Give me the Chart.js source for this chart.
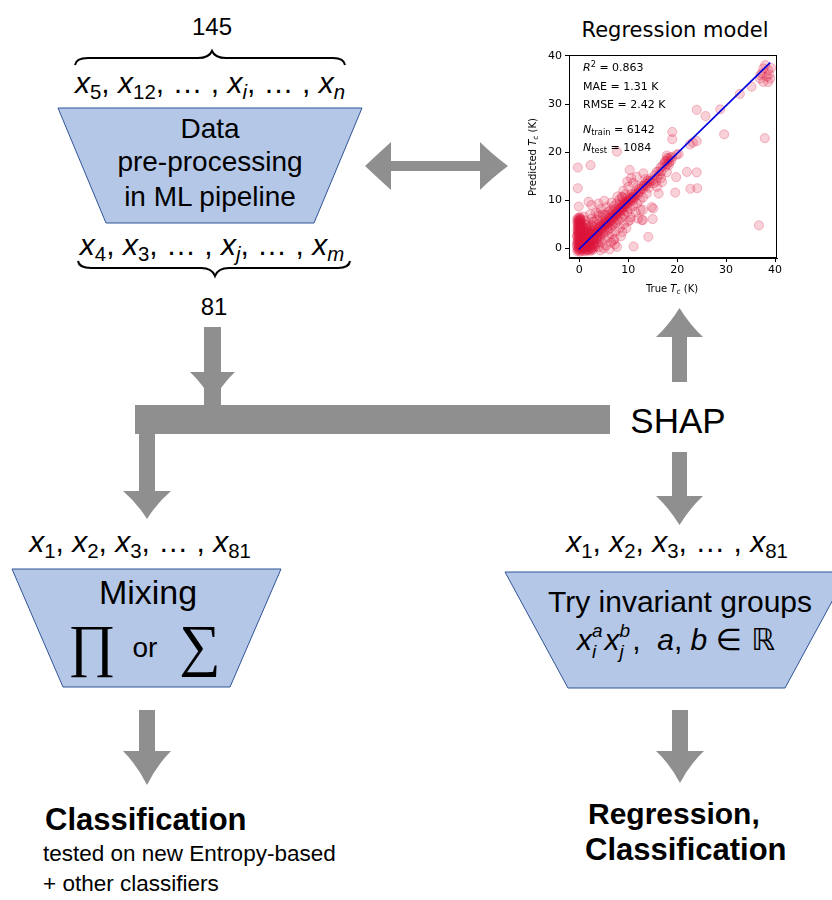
<!DOCTYPE html>
<html>
<head>
<meta charset="utf-8">
<script src="https://cdn.jsdelivr.net/npm/chart.js@4.4.1/dist/chart.umd.min.js"></script>
<style>
  body { margin: 0; background: #fff; }
  #page { position: relative; width: 832px; height: 900px; overflow: hidden; background: #fff; }
  .t { position: absolute; line-height: 1; white-space: nowrap; font-family: "Liberation Sans", Arial, sans-serif; color: #000; }
  .c { transform: translateX(-50%); }
  .m i { font-style: italic; }
  .m sub, .m sup { font-size: 0.68em; line-height: 0; position: relative; vertical-align: baseline; }
  .m sub { top: 0.28em; font-style: normal; }
  .m i sub { font-style: italic; }
  .m sup { top: -0.5em; }
  .st { display: inline-block; position: relative; width: 0.42em; height: 0; }
  .st span { position: absolute; left: 0; font-size: 19px; font-style: italic; line-height: 1; }
  .st .su { top: -29px; }
  .st .sb { top: -8px; }
  .p { font-family: "DejaVu Sans", sans-serif; font-size: 11px; }
  .p sub { font-size: 0.75em; line-height: 0; position: relative; vertical-align: baseline; top: 0.3em; }
  .p sup { font-size: 0.75em; line-height: 0; position: relative; vertical-align: baseline; top: -0.45em; }
  #plot { position: absolute; left: 520px; top: 0; width: 270px; height: 300px; }
</style>
</head>
<body>
<div id="page">
<svg width="832" height="900" style="position:absolute;left:0;top:0">
  <g fill="#b4c7e7" stroke="#2f5597" stroke-width="1">
    <polygon points="58,108 362,108 314,223 106,223"/>
    <polygon points="12,569 281,569 230,687 63,687"/>
    <polygon points="505,572 848,572 785,688 568,688"/>
  </g>
  <g fill="none" stroke="#000" stroke-width="2">
    <path d="M75,65 Q76,58 88,58 L198,58 Q209,58 212,51 Q215,58 226,58 L333,58 Q344,58 345,65"/>
    <path d="M78,261 Q79,268 91,268 L201,268 Q212,268 215,276 Q218,268 229,268 L338,268 Q349,268 350,261"/>
  </g>
  <g fill="#8f8f8f">
    <!-- double arrow -->
    <path d="M365,166 Q380,152 391,142 L391,161 L480,161 L480,142 Q492,154 508,166 Q492,178 480,190 L480,171 L391,171 L391,190 Q380,180 365,166 Z"/>
    <!-- 81 down arrow into bar -->
    <rect x="204" y="327" width="17" height="80"/>
    <path d="M190,372 L235,372 Q222,384 212.5,402 Q203,384 190,372 Z"/>
    <!-- bar -->
    <rect x="135" y="405" width="475" height="29"/>
    <!-- left down arrow -->
    <rect x="139" y="433" width="16" height="60"/>
    <path d="M123,491 L171,491 Q157,503 147,519 Q137,503 123,491 Z"/>
    <!-- up arrow to plot -->
    <rect x="672" y="335" width="15" height="47"/>
    <path d="M656,337 L703,337 Q690,325 679.5,308 Q669,325 656,337 Z"/>
    <!-- down arrow from SHAP -->
    <rect x="672" y="452" width="15" height="46"/>
    <path d="M656,496 L703,496 Q690,508 679.5,525 Q669,508 656,496 Z"/>
    <!-- bottom arrows -->
    <rect x="139" y="710" width="16" height="43"/>
    <path d="M123,751 L171,751 Q157,765 147,785 Q137,765 123,751 Z"/>
    <rect x="672" y="710" width="16" height="43"/>
    <path d="M656,751 L704,751 Q690,764 680,783 Q670,764 656,751 Z"/>
  </g>
</svg>

<div class="t c" style="left:212px;top:15px;font-size:24px">145</div>
<div class="t c m" style="left:210px;top:68px;font-size:30px"><i>x</i><sub>5</sub>, <i>x</i><sub>12</sub>, … , <i>x<sub>i</sub></i>, … , <i>x<sub>n</sub></i></div>
<div class="t c" style="left:210px;top:115px;font-size:28px">Data</div>
<div class="t c" style="left:210px;top:148px;font-size:28px">pre-processing</div>
<div class="t c" style="left:210px;top:183px;font-size:28px">in ML pipeline</div>
<div class="t c m" style="left:212px;top:230px;font-size:30px"><i>x</i><sub>4</sub>, <i>x</i><sub>3</sub>, … , <i>x<sub>j</sub></i>, … , <i>x<sub>m</sub></i></div>
<div class="t c" style="left:214px;top:295px;font-size:24px">81</div>

<div class="t c" style="left:675px;top:20px;font-size:21px;font-family:'DejaVu Sans',sans-serif">Regression model</div>
<div class="t c" style="left:678px;top:403px;font-size:35px">SHAP</div>

<div class="t c m" style="left:140px;top:527px;font-size:30px"><i>x</i><sub>1</sub>, <i>x</i><sub>2</sub>, <i>x</i><sub>3</sub>, … , <i>x</i><sub>81</sub></div>
<div class="t c m" style="left:677px;top:527px;font-size:30px"><i>x</i><sub>1</sub>, <i>x</i><sub>2</sub>, <i>x</i><sub>3</sub>, … , <i>x</i><sub>81</sub></div>

<div class="t c" style="left:148px;top:575px;font-size:34px">Mixing</div>
<div class="t c" style="left:92px;top:617px;font-size:58px;font-family:'Liberation Serif',serif">∏</div>
<div class="t c" style="left:145px;top:634px;font-size:28px">or</div>
<div class="t c" style="left:200px;top:617px;font-size:58px;font-family:'Liberation Serif',serif">∑</div>

<div class="t c" style="left:680px;top:587px;font-size:30px">Try invariant groups</div>
<div class="t c m" style="left:676px;top:625px;font-size:30px"><i>x</i><span class="st"><span class="su">a</span><span class="sb">i</span></span><i>x</i><span class="st"><span class="su">b</span><span class="sb">j</span></span>,&nbsp; <i>a</i>, <i>b</i> <span style="font-family:'DejaVu Sans'">∈ ℝ</span></div>

<div class="t" style="left:45px;top:804px;font-size:31px;font-weight:bold">Classification</div>
<div class="t" style="left:43px;top:843px;font-size:22.5px">tested on new Entropy-based</div>
<div class="t" style="left:43px;top:873px;font-size:22.5px">+ other classifiers</div>
<div class="t" style="left:588px;top:799px;font-size:30px;font-weight:bold">Regression,</div>
<div class="t" style="left:585px;top:834px;font-size:31px;font-weight:bold">Classification</div>

<div id="plot"><canvas id="scatter" width="270" height="300"></canvas></div>
<div class="t p" style="left:583px;top:62px"><i>R</i><sup>2</sup> = 0.863</div>
<div class="t p" style="left:583px;top:81px">MAE = 1.31 K</div>
<div class="t p" style="left:583px;top:99px">RMSE = 2.42 K</div>
<div class="t p" style="left:583px;top:124px"><i>N</i><sub>train</sub> = 6142</div>
<div class="t p" style="left:583px;top:142px"><i>N</i><sub>test</sub> = 1084</div>
<div class="t c p" style="left:672px;top:284px;font-size:10px">True <i>T</i><sub>c</sub> (K)</div>
<div class="t p" style="left:533px;top:157px;font-size:10px;transform:translate(-50%,-50%) rotate(-90deg)">Predicted <i>T</i><sub>c</sub> (K)</div>
</div>

<script>
// test-set points [true Tc, predicted Tc]
const lowCluster = [
  [-0.4,-0.6],[0.1,-0.7],[0.4,-0.5],[-0.2,0.1],[0.3,0.2],[-0.5,0.5],[0.2,0.6],[-0.1,1.0],[0.5,1.1],[-0.4,1.4],
  [0.1,1.5],[0.4,1.8],[-0.3,2.0],[0.2,2.2],[-0.5,2.5],[0.3,2.6],[0.0,2.9],[-0.3,3.2],[0.4,3.3],[0.1,3.6],
  [-0.4,3.9],[0.3,4.0],[0.0,4.3],[-0.3,4.6],[0.4,4.7],[0.1,5.0],[-0.4,5.3],[0.2,5.5],[-0.1,5.8],[0.3,6.0],
  [-0.3,6.3],[0.1,6.5],[-0.2,-0.3],[0.2,-0.2],[0.0,0.4],[-0.4,0.8],[0.3,0.9],[0.0,1.3],[-0.2,1.7],[0.5,1.4],
  [0.0,2.4],[-0.2,2.8],[0.4,2.9],[0.1,3.1],[-0.1,3.5],[0.2,3.9],[-0.2,4.2],[0.3,4.4],[0.0,4.9],[-0.2,5.1],
  [0.3,5.3],[0.0,5.7],[-0.4,6.0],[0.2,6.2],
  [0.8,-0.5],[1.3,-0.6],[1.8,-0.4],[2.3,-0.5],[2.8,-0.3],[0.9,0.2],[1.4,0.1],[1.9,0.3],[2.4,0.2],[2.9,0.5],
  [0.7,0.8],[1.2,0.9],[1.7,1.0],[2.2,1.1],[2.7,1.3],[0.9,1.5],[1.4,1.6],[1.9,1.8],[2.5,2.0],[3.0,2.2],
  [0.8,2.3],[1.3,2.4],[1.8,2.6],[2.3,2.8],[2.8,3.0],[0.9,3.1],[1.5,3.2],[2.0,3.4],[2.6,3.6],[1.1,3.8],
  [1.7,4.0],[2.2,4.3],[0.8,4.5],[1.4,4.8],[3.2,3.4],[3.5,2.8],[3.3,1.5],[3.8,3.6],[1.0,0.5],[1.6,0.4],
  [2.1,0.6],[0.6,1.2],[1.1,1.2],[2.0,1.4],[0.6,-0.2],[1.1,-0.2],[1.6,-0.1],[2.1,-0.2],[2.6,0.0],[0.7,5.3],
  [1.2,5.8],[0.9,6.6],[1.8,5.0],[2.5,4.8],[3.1,4.5],[2.8,5.5]
];
const denseCore = [
  [-0.3,-0.2],[0.1,0.0],[0.4,0.5],[-0.1,0.7],[0.3,1.2],[-0.3,1.1],[0.2,1.9],[-0.1,2.1],[0.4,2.3],[-0.4,2.7],
  [0.2,3.0],[-0.1,3.3],[0.3,3.7],[-0.3,3.6],[0.1,4.1],[-0.2,4.5],[0.4,4.9],[0.0,5.2],[-0.3,5.6],[0.2,5.9],
  [0.0,6.3],[0.7,0.0],[1.2,0.3],[1.7,0.7],[2.2,0.8],[2.7,0.9],[0.8,1.0],[1.3,1.3],[1.8,1.4],[2.3,1.6],
  [2.8,1.9],[1.0,1.9],[1.5,2.0],[2.0,2.2],[2.5,2.4],[1.0,2.7],[1.6,2.8],[2.1,3.0],[2.6,3.2],[1.2,3.4],
  [1.8,3.6],[2.3,3.8],[0.7,3.9],[1.3,4.2],[0.6,0.4],[1.5,-0.4],[2.5,-0.2],[3.2,0.3],[3.4,1.0],[3.1,1.9],
  [3.6,2.4],[3.9,3.0],[4.1,2.0],[3.3,3.8],[3.7,3.2],[4.3,4.2],[4.7,4.5],[5.1,4.9],[5.6,5.3],[6.2,5.5],
  [6.6,6.3],[7.1,6.7],[7.6,7.3],[8.0,7.9],[8.4,8.2],[8.8,8.5],[9.2,9.1],[9.6,9.4],[10.0,9.9],[10.5,10.3],
  [11.0,10.7],[11.5,11.3],[12.0,11.6],[12.6,12.4],[13.2,13.0],[13.8,13.5],[14.4,14.0],[4.4,3.2],[5.0,3.8],[5.7,4.4],
  [6.4,5.0],[7.0,5.7],[7.7,6.2],[8.4,7.0],[9.0,7.8],[9.8,8.6],[4.0,5.1],[4.7,5.8],[5.4,6.3],[6.0,6.9],
  [6.8,7.6],[7.4,8.2],[8.2,9.0],[9.0,9.8],[9.8,10.6],[10.8,11.4]
];
const diagonalBand = [
  [3.5,3.3],[3.8,4.1],[4.0,3.5],[4.2,4.6],[4.5,3.9],[4.6,4.8],[4.8,4.2],[5.0,5.3],[5.2,4.6],[5.4,5.6],
  [5.5,4.9],[5.8,5.7],[6.0,5.2],[6.1,6.3],[6.3,5.8],[6.5,6.6],[6.7,6.0],[6.9,7.1],[7.0,6.4],[7.3,7.2],
  [7.5,6.8],[7.7,7.8],[7.9,7.2],[8.1,8.3],[8.3,7.7],[8.5,8.6],[8.7,8.0],[8.9,9.2],[9.1,8.6],[9.3,9.5],
  [9.5,9.0],[9.7,9.9],[9.9,9.4],[10.2,10.3],[10.4,9.8],[10.6,10.7],[10.8,10.2],[11.1,11.2],[11.3,10.6],[11.6,11.7],
  [11.9,11.1],[12.2,12.3],[12.5,11.8],[12.8,12.9],[13.1,12.4],[13.4,13.5],[13.7,13.0],[14.0,14.1],[14.3,13.6],[14.6,14.5],
  [15.0,14.2],[14.2,12.6],[13.5,14.4],[12.0,13.0],
  [3.0,5.5],[3.6,6.0],[4.1,6.8],[4.8,7.0],[5.3,6.9],[5.9,7.6],[6.4,8.0],[7.1,8.8],[7.6,9.3],[8.2,10.1],
  [8.8,10.6],[9.4,11.2],[2.5,6.2],[3.4,7.4],[4.4,8.2],[5.6,8.6],[6.6,9.5],[7.8,10.8],[9.0,12.0],[10.0,12.8],
  [11.0,13.6],[10.6,14.6],[9.8,13.9],[2.2,7.1],[3.9,9.3],[5.1,9.9],
  [3.6,2.0],[4.2,2.5],[4.8,3.0],[5.3,3.4],[5.8,3.8],[6.3,4.2],[6.8,4.8],[7.4,5.2],[8.0,5.8],[8.6,6.4],
  [9.2,7.0],[9.8,7.6],[10.4,8.2],[11.0,8.8],[11.8,9.4],[12.4,10.0],[13.0,10.6],[13.8,11.4],[4.5,1.2],[5.2,1.8],
  [6.0,2.4],[6.7,3.0],[7.5,3.6],[8.3,4.3],[9.1,5.0],[10.0,5.6],[4.0,0.3],[5.5,0.6],[6.5,1.2],[7.2,2.0],
  [8.8,3.4],[9.6,4.2],[3.0,0.8],[3.7,1.3],[5.0,0.0],[6.2,-0.2],[7.3,0.8],[8.5,2.5],[10.5,6.5],[11.5,7.5],
  [12.5,8.0],[12.0,6.2],
  [15.4,15.2],[15.8,15.9],[16.2,16.0],[16.6,16.8],[17.0,17.2],[17.4,17.6],[17.6,17.0],[17.8,18.2],[18.0,17.5],[18.2,18.6],
  [18.4,17.9],[18.6,18.9],[18.0,18.8],[17.5,18.1],[18.3,17.3],[18.8,18.3],[19.0,19.0],[16.0,14.8],[16.5,15.4],[15.2,13.5],
  [16.8,16.0]
];
const outliers = [
  [-0.3,16.8],[-0.3,12.5],[2.3,17.3],[-0.1,8.7],[7.7,20.1],[24.0,28.8],[25.8,27.5],[29.6,23.7],[28.8,28.9],[32.8,32.1],
  [35.2,33.6],[37.9,22.9],[36.7,4.8],[19.0,24.2],[19.0,22.7],[22.0,15.9],[24.0,15.8],[22.7,12.4],[24.1,12.5],[19.6,11.6],
  [19.8,14.8],[23.2,22.0],[24.0,22.3],[22.6,21.6],[19.9,19.5],[20.3,19.6],[17.9,19.3],[17.9,15.8],[11.1,0.4],[14.1,2.4],
  [15.0,6.1],[13.0,5.9],[14.8,8.6],[13.0,8.0],[15.1,8.3],[10.3,16.3],[13.1,15.6],[11.7,14.9],[8.7,10.7],[10.4,5.9],
  [12.8,5.9],[7.0,1.7],[7.7,0.3],[4.3,-0.4],[1.9,3.1],[1.9,9.7],[2.5,9.0],[5.0,4.9],[3.9,7.3],[16.2,11.4],
  [16.9,13.8],[15.9,12.8],[15.7,13.9],[16.7,14.6],[11.0,10.0]
];
const topRight = [
  [37.6,37.4],[38.6,37.1],[38.3,35.7],[36.9,35.3],[39.0,35.3],[37.6,34.6],[38.6,34.6],[37.3,36.4],[39.2,37.5],[38.0,38.1],
  [38.8,36.2],[37.0,36.0]
];
// fitted line end points
const fitX = [-0.1, 39.0];
const fitY = [-0.2, 38.6];
const xTicks = [0, 10, 20, 30, 40];
const yTicks = [0, 10, 20, 30, 40];

const toPts = arr => arr.map(p => ({ x: p[0], y: p[1] }));
const allPoints = toPts(lowCluster.concat(denseCore, diagonalBand, outliers, topRight));
const fitLine = fitX.map((x, i) => ({ x, y: fitY[i] }));

// draw the top/right spines like matplotlib
const frame = {
  id: 'frame',
  afterDatasetsDraw(chart) {
    const a = chart.chartArea, ctx = chart.ctx;
    ctx.save();
    ctx.strokeStyle = '#000';
    ctx.lineWidth = 1;
    ctx.strokeRect(a.left + 0.5, a.top + 0.5, a.right - a.left - 1, a.bottom - a.top - 1);
    ctx.restore();
  }
};

const tickFont = { family: 'DejaVu Sans', size: 11 };

new Chart(document.getElementById('scatter'), {
  type: 'scatter',
  data: {
    datasets: [
      {
        data: fitLine,
        showLine: true,
        borderColor: 'rgb(0,0,225)',
        borderWidth: 1.6,
        pointRadius: 0,
        order: 0
      },
      {
        data: allPoints,
        backgroundColor: 'rgba(220,20,60,0.2)',
        borderColor: 'rgba(220,20,60,0.25)',
        borderWidth: 1,
        pointRadius: 4.6,
        order: 1
      }
    ]
  },
  options: {
    responsive: false,
    animation: false,
    devicePixelRatio: 1,
    layout: { padding: { top: 55, right: 13, left: 0, bottom: 0 } },
    plugins: { legend: { display: false }, tooltip: { enabled: false } },
    scales: {
      x: {
        type: 'linear', min: -2.1, max: 40.4,
        afterBuildTicks: s => { s.ticks = xTicks.map(v => ({ value: v })); },
        afterFit: s => { s.height = 42; },
        grid: { drawOnChartArea: false, tickLength: 4, color: '#000', tickColor: '#000' },
        border: { color: '#000', width: 1 },
        ticks: { color: '#000', font: tickFont, padding: 2, maxRotation: 0 }
      },
      y: {
        type: 'linear', min: -2.0, max: 40.2,
        afterBuildTicks: s => { s.ticks = yTicks.map(v => ({ value: v })); },
        afterFit: s => { s.width = 49; },
        grid: { drawOnChartArea: false, tickLength: 4, color: '#000', tickColor: '#000' },
        border: { color: '#000', width: 1 },
        ticks: { color: '#000', font: tickFont, padding: 3 }
      }
    }
  },
  plugins: [frame]
});
</script>
</body>
</html>
